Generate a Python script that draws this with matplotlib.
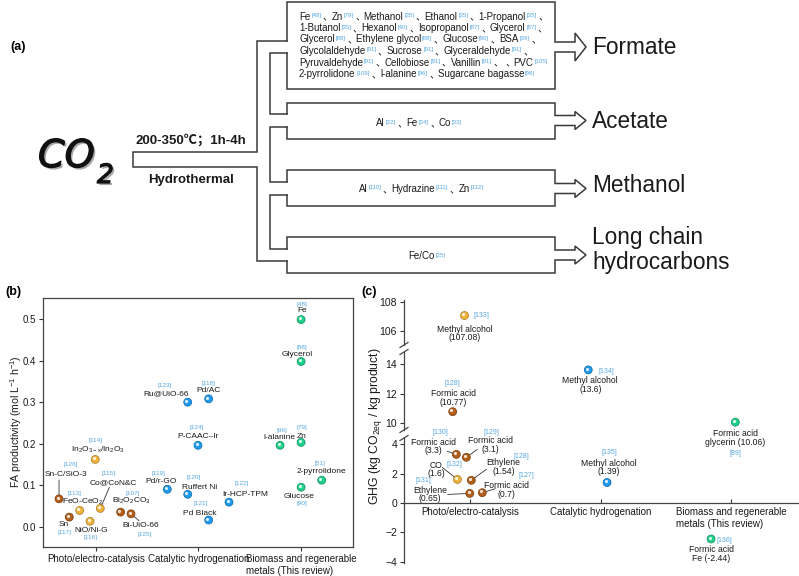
import re
import matplotlib
matplotlib.use("Agg")
import matplotlib.pyplot as plt
import matplotlib.patheffects as pe
from matplotlib import transforms
from matplotlib.colors import to_rgb
from matplotlib.ticker import FormatStrFormatter

plt.rcParams['font.family'] = ['Liberation Sans', 'Noto Sans CJK SC']
plt.rcParams['mathtext.default'] = 'regular'

# ---------------- data ----------------
# (a) hydrothermal conversion routes
products = ["Formate", "Acetate", "Methanol", "Long chain\nhydrocarbons"]
formate_feeds = [
    "Fe[48]、Zn[79]、Methanol[35]、Ethanol[35]、1-Propanol[35]、",
    "1-Butanol[35]、Hexanol[40]、Isopropanol[87]、Glycerol[87]、",
    "Glycerol[88]、Ethylene glycol[88]、Glucose[90]、BSA[39]、",
    "Glycolaldehyde[91]、Sucrose[91]、Glyceraldehyde[91]、",
    "Pyruvaldehyde[91]、Cellobiose[91]、Vanillin[91]、 、PVC[105]",
    "2-pyrrolidone[109]、l-alanine[96]、Sugarcane bagasse[98]",
]
acetate_feeds = "Al[32]、Fe[34]、Co[33]"
methanol_feeds = "Al[110]、Hydrazine[111]、Zn[112]"
lc_feeds = "Fe/Co[25]"
condition_text = "200-350℃；1h-4h"
process_text = "Hydrothermal"

categories = ["Photo/electro-catalysis", "Catalytic hydrogenation",
              "Biomass and regenerable\nmetals (This review)"]

# (b) FA productivity, mol L-1 h-1
b_names = ["Sn-C/SiO-3", "Sn", "FeO-CeO$_2$", "NiO/Ni-G", "In$_2$O$_{3-x}$/In$_2$O$_3$",
           "Co@CoN&C", "Bi$_2$O$_2$CO$_3$", "Bi-UiO-66",
           "Ru@UiO-66", "Pd/AC", "P-CAAC–Ir", "Pd/r-GO", "Ruffert Ni", "Pd Black", "Ir-HCP-TPM",
           "Fe", "Glycerol", "l-alanine", "Zn", "2-pyrrolidone", "Glucose"]
b_refs = ["126", "117", "113", "116", "114", "115", "107", "125",
          "123", "118", "124", "119", "120", "121", "122",
          "48", "88", "96", "79", "51", "90"]
b_x = [0.643, 0.743, 0.844, 0.945, 0.996, 1.045, 1.243, 1.344,
       1.896, 2.100, 1.996, 1.697, 1.896, 2.100, 2.298,
       3.0, 3.0, 2.795, 3.0, 3.2, 3.0]
b_val = [0.067, 0.023, 0.039, 0.013, 0.162, 0.044, 0.035, 0.031,
         0.300, 0.308, 0.196, 0.090, 0.078, 0.016, 0.059,
         0.499, 0.398, 0.196, 0.203, 0.112, 0.095]
b_group = ["brown", "brown", "gold", "gold", "gold", "gold", "brown", "brown"] + \
          ["blue"] * 7 + ["green"] * 6

# (c) GHG, kg CO2eq / kg product
c_names = ["Methyl alcohol\n(107.08)", "Formic acid\n(10.77)", "Formic acid\n(3.3)",
           "Formic acid\n(3.1)", "CO\n(1.6)", "Ethylene\n(1.54)", "Ethylene\n(0.65)",
           "Formic acid\n(0.7)", "Methyl alcohol\n(13.6)", "Methyl alcohol\n(1.39)",
           "Formic acid\nglycerin (10.06)", "Formic acid\nFe (-2.44)"]
c_val = [107.08, 10.77, 3.3, 3.1, 1.6, 1.54, 0.65, 0.7, 13.6, 1.39, 10.06, -2.44]
c_x = [0.954, 0.867, 0.895, 0.972, 0.903, 1.01, 0.998, 1.094, 1.906, 2.05, 3.033, 2.847]
c_refs = ["133", "128", "130", "129", "132", "128", "131", "127", "134", "135", "89", "136"]
c_group = ["gold", "brown", "brown", "brown", "gold", "brown", "brown", "brown",
           "blue", "blue", "green", "green"]

# ---------------- layout / style ----------------
COLORS = {"brown": "#b45f19", "gold": "#f0b43c", "blue": "#1e9bf0", "green": "#1ed28c"}
INK = "#1a1a1a"
REF = "#55a9e4"
LC = "#3a3a3a"

# label offsets in pixels (dx, dy up) relative to each point
b_name_off = [(7, 24), (-6, -7), (3, 9), (1, -9), (3, 10), (13, 26), (11, 11), (10, -12),
              (-22, 8), (0, 8), (0, 9), (-6, 8), (12, 7), (-9, 7), (16, 8),
              (1, 9), (-4, 7), (-1, 8), (1, 6), (0, 9), (-2, -9)]
b_ref_off = [(12, 34), (-5, -15), (-5, 17), (0, -16), (0, 19), (8, 35), (12, 19), (14, -21),
             (-23, 17), (0, 15), (-1, 18), (-9, 16), (6, 17), (-8, 17), (13, 19),
             (1, 15), (1, 14), (2, 15), (1, 15), (-2, 17), (1, -16)]
b_leaders = {0: (0, 19), 5: (9, 21), 7: (8, -7)}

c_name_off = [(1, -18), (1, 14), (-23, 8), (24, 12), (-21, 10), (32, 13), (-40, -1),
              (24, 3), (2, -15), (2, 15), (0, -16), (0, -15)]
c_ref_off = [(17, 0), (0, 28), (-16, 22), (25, 25), (-3, 15), (50, 24), (-46, 13),
             (44, 17), (18, -2), (2, 30), (0, -31), (13, -2)]
c_leaders = {2: (-9, 3), 3: (11, 8), 4: (-15, 12), 5: (15, 11), 6: (-22, -1), 7: (13, 4)}

W, H = 799, 576
fig = plt.figure(figsize=(W / 100, H / 100), dpi=100)


def px_axes(x0, y0, x1, y1, **kw):
    return fig.add_axes([x0 / W, 1 - y1 / H, (x1 - x0) / W, (y1 - y0) / H], **kw)


# overlay in pixel coordinates for the scheme and free text
ov = px_axes(0, 0, W, H, zorder=10)
ov.set_xlim(0, W)
ov.set_ylim(H, 0)
ov.axis('off')
ov.patch.set_visible(False)
renderer = fig.canvas.get_renderer()


def line(xs, ys):
    ov.plot(xs, ys, color=LC, lw=1.1, solid_joinstyle='miter', solid_capstyle='projecting')


def rich(s, x, y, size=7.0, center=False):
    # words in black, reference numbers small and light blue, CJK commas between
    toks = re.findall(r'\[\d+\]|、|[^\[、]+', s)
    placed = []
    for tok in toks:
        if tok.startswith('['):
            t = ov.text(0, y - 2.5, tok, fontsize=size * 0.62, color=REF, va='baseline')
            placed.append((t, t.get_window_extent(renderer).width + 1.5))
        elif tok == '、':
            t = ov.text(0, y, tok, fontsize=size, color=INK, va='baseline')
            placed.append((t, 8.5))
        elif tok.strip():
            t = ov.text(0, y, tok.strip(), fontsize=size, color=INK, va='baseline')
            placed.append((t, t.get_window_extent(renderer).width + 1.0))
        else:
            placed.append((None, 3.0))
    total = sum(a for _, a in placed)
    xx = x - total / 2 if center else x
    for t, adv in placed:
        if t is not None:
            t.set_x(xx)
        xx += adv


# ---- (a) scheme ----
BX0, BX1 = 287, 555
boxes = [(2, 89, 41, 53), (103, 139, 114, 127), (170, 206, 182, 195), (237, 273, 249, 261)]
heads = [14, 9, 9, 9]
label_y = [47, 121, 185, 250]
for (top, bot, g0, g1), hh, name, ly in zip(boxes, heads, products, label_y):
    c = (g0 + g1) / 2
    line([BX0, BX0, BX1, BX1, BX1 + 20, BX1 + 20, BX1 + 31, BX1 + 20, BX1 + 20, BX1, BX1, BX0, BX0],
         [g0, top, top, c - 5, c - 5, c - hh, c, c + hh, c + 5, c + 5, bot, bot, g1])
    ov.text(592, ly, name, fontsize=16.3, color=INK, va='center', ha='left', linespacing=1.12)

# pipe from CO2 to the four boxes
line([BX0, 257, 257, 133, 133, 257, 257, BX0], [41, 41, 152, 152, 167, 167, 261, 261])
for ya, yb in [(53, 114), (127, 182), (195, 249)]:
    line([BX0, 270, 270, BX0], [ya, ya, yb, yb])

for i, s in enumerate(formate_feeds):
    rich(s, 299, 19.5 + 11.5 * i)
rich(acetate_feeds, 420, 126.5, center=True)
rich(methanol_feeds, 422, 192, center=True)
rich(lc_feeds, 428, 259, center=True)

ov.text(191, 140, condition_text, fontsize=9.5, fontweight='bold', ha='center', va='center', color=INK)
ov.text(191, 180, process_text, fontsize=9.5, fontweight='bold', ha='center', va='center', color=INK)

shadow = [pe.SimplePatchShadow(offset=(1.5, -1.5), alpha=0.35),
          pe.Stroke(linewidth=0.9, foreground='#111111'), pe.Normal()]
ov.text(38, 167, "CO", fontsize=27.5, style='italic', family='DejaVu Sans', va='baseline',
        color='#111111', path_effects=shadow)
ov.text(97, 183, "2", fontsize=19, style='italic', family='DejaVu Sans', va='baseline',
        color='#111111', path_effects=shadow)

ov.text(18, 47, "(a)", fontsize=9, fontweight='bold', ha='center', va='center')
ov.text(13, 292, "(b)", fontsize=9, fontweight='bold', ha='center', va='center')
ov.text(369, 292, "(c)", fontsize=9, fontweight='bold', ha='center', va='center')


def darker(c, f=0.72):
    return tuple(v * f for v in to_rgb(c))


def spheres(ax, xs, ys, groups, s=32):
    cols = [COLORS[g] for g in groups]
    ax.scatter(xs, ys, s=s, c=cols, edgecolors=[darker(c) for c in cols], linewidths=0.6, zorder=3)
    hl = transforms.offset_copy(ax.transData, fig=fig, x=-0.9, y=0.9, units='points')
    ax.scatter(xs, ys, s=s * 0.16, c='white', alpha=0.85, linewidths=0, transform=hl, zorder=4)


def annotate(ax, x, y, text, off, size, color, **kw):
    ax.annotate(text, (x, y), xytext=off, textcoords='offset pixels', ha='center', va='center',
                fontsize=size, color=color, **kw)


def leader(ax, x, y, end):
    ax.annotate('', (x, y), xytext=end, textcoords='offset pixels',
                arrowprops=dict(arrowstyle='-', color='#333333', lw=0.6, shrinkA=0, shrinkB=3))


# ---- (b) ----
axb = px_axes(43, 298, 353, 547)
axb.set_xlim(0.487, 3.505)
axb.set_ylim(-0.049, 0.551)
axb.set_xticks([1, 2, 3])
axb.set_xticklabels(categories)
for lab in axb.get_xticklabels():
    lab.set_multialignment('left')
axb.set_yticks([0.0, 0.1, 0.2, 0.3, 0.4, 0.5])
axb.yaxis.set_major_formatter(FormatStrFormatter('%.1f'))
axb.tick_params(direction='out', length=3, width=0.8, labelsize=7, pad=2, colors='#333333',
                labelcolor=INK)
for sp in axb.spines.values():
    sp.set_linewidth(0.9)
    sp.set_color('#444444')
spheres(axb, b_x, b_val, b_group)
for i in range(len(b_names)):
    annotate(axb, b_x[i], b_val[i], b_names[i], b_name_off[i], 6, INK, multialignment='center')
    annotate(axb, b_x[i], b_val[i], "[" + b_refs[i] + "]", b_ref_off[i], 4.6, REF)
    if i in b_leaders:
        leader(axb, b_x[i], b_val[i], b_leaders[i])
ov.text(16, 422, "FA productivity (mol L$^{-1}$ h$^{-1}$)", rotation=90, fontsize=7.6,
        ha='center', va='center', color=INK)

# ---- (c) broken axis ----
axc_top = px_axes(404, 300, 798, 345)
axc_mid = px_axes(404, 352, 798, 430)
axc_bot = px_axes(404, 438, 798, 563)
axc_top.set_ylim(105.03, 108.14)
axc_mid.set_ylim(9.53, 14.81)
axc_bot.set_ylim(-4.07, 4.41)
axc_top.set_yticks([106, 108])
axc_mid.set_yticks([10, 12, 14])
axc_bot.set_yticks([-4, -2, 0, 2, 4])
for ax in (axc_top, axc_mid, axc_bot):
    ax.set_xlim(0.494, 3.513)
    ax.set_facecolor('none')
    ax.spines['top'].set_visible(False)
    ax.spines['right'].set_visible(False)
    ax.spines['left'].set_color('#444444')
    ax.spines['left'].set_linewidth(0.9)
    ax.tick_params(axis='y', direction='out', length=3, width=0.8, labelsize=7.5, pad=2,
                   colors='#333333', labelcolor=INK)
for ax in (axc_top, axc_mid):
    ax.spines['bottom'].set_visible(False)
    ax.set_xticks([])
axc_bot.spines['bottom'].set_position(('data', 0))
axc_bot.spines['bottom'].set_color('#444444')
axc_bot.spines['bottom'].set_linewidth(0.9)
axc_bot.set_xticks([1, 2, 3])
axc_bot.set_xticklabels(categories)
for lab in axc_bot.get_xticklabels():
    lab.set_multialignment('left')
axc_bot.tick_params(axis='x', direction='in', length=3, width=0.8, labelsize=7, pad=3,
                    colors='#333333', labelcolor=INK)

for ax in (axc_top, axc_mid, axc_bot):
    lo, hi = ax.get_ylim()
    idx = [i for i, v in enumerate(c_val) if lo <= v <= hi]
    spheres(ax, [c_x[i] for i in idx], [c_val[i] for i in idx], [c_group[i] for i in idx])
    for i in idx:
        annotate(ax, c_x[i], c_val[i], c_names[i], c_name_off[i], 6.2, INK,
                 multialignment='center', linespacing=0.95)
        annotate(ax, c_x[i], c_val[i], "[" + c_refs[i] + "]", c_ref_off[i], 5, REF)
        if i in c_leaders:
            leader(ax, c_x[i], c_val[i], c_leaders[i])

# break marks on the y axis
for yb in (345, 352, 430, 438):
    ov.plot([400, 408], [yb + 2.5, yb - 2.5], color='#444444', lw=0.9)

ov.text(375, 426, "GHG (kg CO$_{2eq}$ / kg product)", rotation=90, fontsize=8.8,
        ha='center', va='center', color=INK)

fig.savefig("out.png", dpi=100)
